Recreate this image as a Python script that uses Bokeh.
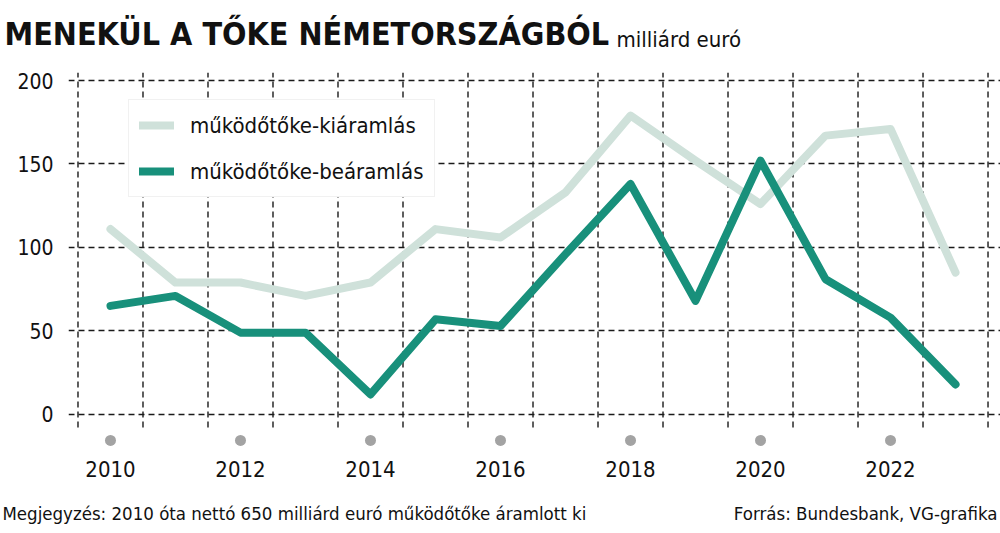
from bokeh.plotting import figure
from bokeh.layouts import column, row
from bokeh.models import (FixedTicker, Range1d, Label, Legend, LegendItem,
                          ColumnDataSource)
from bokeh.embed import file_html
from bokeh.resources import INLINE

years = list(range(2010, 2024))
kiaramlas = [111, 79, 79, 71, 79, 111, 106, 133, 179, 152, 126, 167, 171, 85]
bearamlas = [65, 71, 49, 49, 12, 57, 53, 96, 138, 68, 152, 81, 58, 18]
y_ticks = [0, 50, 100, 150, 200]
x_label_years = [2010, 2012, 2014, 2016, 2018, 2020, 2022]

title_text = "MENEKÜL A TŐKE NÉMETORSZÁGBÓL"
unit_text = "milliárd euró"
note_text = "Megjegyzés: 2010 óta nettó 650 milliárd euró működőtőke áramlott ki"
source_text = "Forrás: Bundesbank, VG-grafika"
name_out = "működőtőke-kiáramlás"
name_in = "működőtőke-beáramlás"

FONT = "DejaVu Sans Condensed, Roboto"
LIGHT = "#cfe1da"
DARK = "#18907b"
TXT = "#111111"

half_years = [y - 0.5 for y in years] + [years[-1] + 0.5]


def text_fig(h):
    f = figure(width=1000, height=h, output_backend="svg", toolbar_location=None,
               x_range=Range1d(0, 1000), y_range=Range1d(0, h),
               x_axis_location=None, y_axis_location=None,
               min_border=0, min_border_left=0, min_border_right=0,
               min_border_top=0, min_border_bottom=0)
    f.outline_line_color = None
    f.grid.visible = False
    return f


# ---- title strip
top = text_fig(60)
top.add_layout(Label(x=4, y=8, x_units="screen", y_units="screen",
                     text=title_text, text_font=FONT, text_font_style="bold",
                     text_font_size="32px", text_color=TXT))
top.add_layout(Label(x=616, y=9, x_units="screen", y_units="screen",
                     text=unit_text, text_font=FONT,
                     text_font_size="22px", text_color=TXT))

# ---- main chart
p = figure(width=1000, height=435, output_backend="svg", toolbar_location=None,
           x_range=Range1d(2009.354, 2023.692), y_range=Range1d(-21.6, 204.8),
           min_border_left=68, min_border_right=0, min_border_top=12,
           min_border_bottom=45)
p.outline_line_color = None

p.xgrid.visible = False
p.ygrid.ticker = FixedTicker(ticks=y_ticks)
p.ygrid.grid_line_color = "#1a1a1a"
p.ygrid.grid_line_dash = "6 4"
p.ygrid.grid_line_width = 1.4

p.segment(x0=half_years, x1=half_years, y0=[-7.8] * len(half_years),
          y1=[204.8] * len(half_years), line_color="#1a1a1a",
          line_dash="6 4", line_width=1.4)

p.yaxis.ticker = FixedTicker(ticks=y_ticks)
p.yaxis.axis_line_color = None
p.yaxis.major_tick_line_color = None
p.yaxis.minor_tick_line_color = None
p.yaxis.major_label_text_font = FONT
p.yaxis.major_label_text_font_size = "21px"
p.yaxis.major_label_text_color = TXT
p.yaxis.major_label_standoff = 9

p.xaxis.ticker = FixedTicker(ticks=x_label_years)
p.xaxis.axis_line_color = None
p.xaxis.major_tick_line_color = None
p.xaxis.minor_tick_line_color = None
p.xaxis.major_label_text_font = FONT
p.xaxis.major_label_text_font_size = "22px"
p.xaxis.major_label_text_color = TXT
p.xaxis.major_label_standoff = 4

p.scatter(x=x_label_years, y=[-15.6] * len(x_label_years), size=11,
          fill_color="#a3a3a3", line_color=None)

src = ColumnDataSource(dict(year=years, out=kiaramlas, inn=bearamlas))
r_out = p.line("year", "out", source=src, line_color=LIGHT, line_width=8,
               line_cap="round", line_join="round")
r_in = p.line("year", "inn", source=src, line_color=DARK, line_width=8,
              line_cap="round", line_join="round")

legend = Legend(items=[LegendItem(label=name_out, renderers=[r_out]),
                       LegendItem(label=name_in, renderers=[r_in])],
                location=(60, 253))
legend.label_text_font = FONT
legend.label_text_font_size = "22px"
legend.label_text_color = TXT
legend.glyph_width = 35
legend.glyph_height = 30
legend.label_height = 30
legend.spacing = 16
legend.padding = 10
legend.margin = 0
legend.label_standoff = 16
legend.border_line_color = "#e4e4e4"
legend.border_line_width = 1
legend.background_fill_color = "white"
legend.background_fill_alpha = 1
p.add_layout(legend)

# ---- footer strip
bot = text_fig(38)
bot.add_layout(Label(x=2, y=10, x_units="screen", y_units="screen",
                     text=note_text, text_font=FONT,
                     text_font_size="18.5px", text_color=TXT))
bot.add_layout(Label(x=997, y=10, x_units="screen", y_units="screen",
                     text=source_text, text_font=FONT, text_align="right",
                     text_font_size="18.5px", text_color=TXT))

layout = column(row(top, spacing=0), row(p, spacing=0), row(bot, spacing=0),
                spacing=0)
open("out.html", "w").write(file_html(layout, INLINE))
